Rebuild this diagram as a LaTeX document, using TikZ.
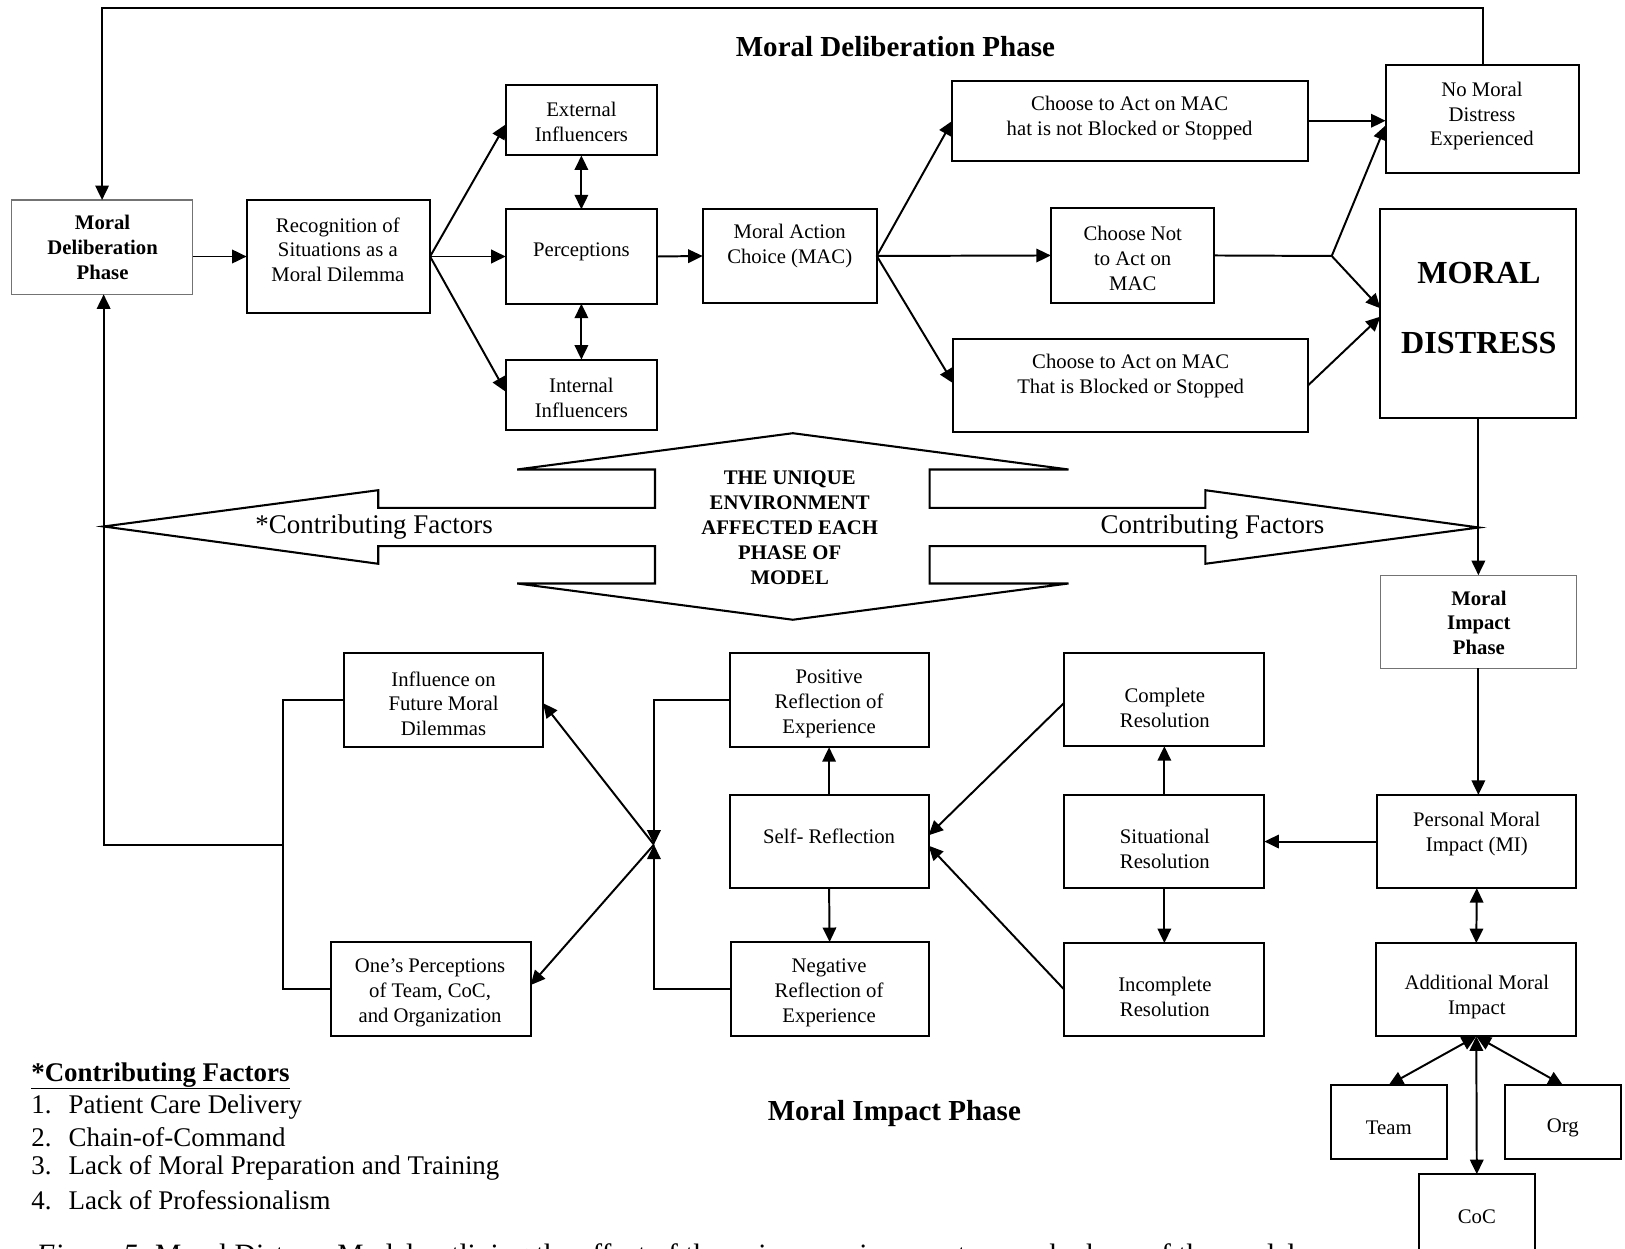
\documentclass[tikz,border=0pt]{standalone}
\usepackage{fontspec}
\setmainfont{Liberation Serif}
\usetikzlibrary{arrows.meta}

% \pbox[style]{name}{x1}{y1}{x2}{y2}: empty framed box spanning two corners
\newcommand{\pbox}[6][box]{%
  \node[#1, minimum width={(#5-#3)*1pt}, minimum height={(#6-#4)*1pt}] (#2) at ({(#3+#5)/2},{(#4+#6)/2}) {};}

\tikzset{
  box/.style={draw, line width=2pt, inner sep=0pt, outer sep=0pt},
  gbox/.style={draw=black!55, line width=1.2pt, inner sep=0pt, outer sep=0pt},
  lbl/.style={align=center, inner sep=0pt, yshift=-2pt, font=\fontsize{20}{24}\selectfont},
  blbl/.style={align=center, inner sep=0pt, yshift=-1pt, font=\fontsize{20}{24}\selectfont\bfseries},
  conn/.style={line width=1.9pt},
  tip/.tip={Triangle[length=14pt,width=13pt]},
  arr/.style={conn, -tip},
  darr/.style={conn, tip-tip},
  bigtxt/.style={inner sep=0pt, font=\fontsize{26}{30}\selectfont},
  phasetitle/.style={inner sep=0pt, font=\fontsize{28}{32}\selectfont\bfseries},
}

\begin{document}
\begin{tikzpicture}[x=1pt,y=-1pt]
\useasboundingbox (0,0) rectangle (1568,1205);
\fill[white] (0,0) rectangle (1568,1205);

% ---------- environment arrows (four-way shape) ----------
\draw[line width=2pt, line join=miter]
  (765,418) -- (1031,453) -- (897,453) -- (897,490) -- (1163,490) -- (1163,473)
  -- (1427,509) -- (1163,544) -- (1163,527) -- (897,527) -- (897,563) -- (1031,563)
  -- (765,598) -- (499,563) -- (632,563) -- (632,527) -- (365,527) -- (365,544)
  -- (100,508) -- (365,473) -- (365,490) -- (632,490) -- (632,453) -- (499,453) -- cycle;
\node[align=center, inner sep=0pt, font=\fontsize{20}{24}\selectfont\bfseries] (envtxt) at (762,509)
  {THE UNIQUE\\ENVIRONMENT\\AFFECTED EACH\\PHASE OF\\MODEL};
\node[bigtxt] (cfleft) at (361,509) {*Contributing Factors};
\node[bigtxt] (cfright) at (1170,509) {Contributing Factors};

% ---------- phase titles ----------
\node[phasetitle] (deltitle) at (864,45) {Moral Deliberation Phase};
\node[phasetitle] (imptitle) at (863,1074) {Moral Impact Phase};

% ---------- deliberation boxes ----------
\pbox[gbox]{mdp}{11}{193}{186}{284}
\node[blbl] (mdp-t) at (99,238) {Moral\\Deliberation\\Phase};
\pbox{recog}{238}{193}{415}{302}
\node[lbl] (recog-t) at (326,239) {Recognition of\\Situations as a\\Moral Dilemma};
\pbox{ext}{488}{82}{634}{150}
\node[lbl] (ext-t) at (561,116) {External\\Influencers};
\pbox{perc}{488}{202}{634}{293}
\node[lbl] (perc-t) at (561,241) {Perceptions};
\pbox{int}{488}{347}{634}{415}
\node[lbl] (int-t) at (561,382) {Internal\\Influencers};
\pbox{mac}{678}{202}{846}{292}
\node[lbl] (mac-t) at (762,235) {Moral Action\\Choice (MAC)};
\pbox{act1}{919}{78}{1262}{155}
\node[lbl] (act1-t) at (1090,112) {Choose to Act on MAC\\hat is not Blocked or Stopped};
\pbox{notact}{1014}{201}{1171}{292}
\node[lbl] (notact-t) at (1093,247) {Choose Not\\to Act on\\MAC};
\pbox{act2}{920}{327}{1262}{417}
\node[lbl] (act2-t) at (1091,361) {Choose to Act on MAC\\That is Blocked or Stopped};
\pbox{nomd}{1337}{63}{1524}{167}
\node[lbl] (nomd-t) at (1430,110) {No Moral\\Distress\\Experienced};
\pbox{md}{1332}{202}{1521}{403}
\node[align=center, inner sep=0pt, font=\fontsize{31}{68}\selectfont\bfseries] (md-t) at (1427,297) {MORAL\\DISTRESS};

% ---------- impact boxes ----------
\pbox[gbox]{mip}{1332}{555}{1521}{645}
\node[blbl] (mip-t) at (1427,600) {Moral\\Impact\\Phase};
\pbox{pmi}{1329}{767}{1521}{857}
\node[lbl] (pmi-t) at (1425,803) {Personal Moral\\Impact (MI)};
\pbox{ami}{1328}{910}{1521}{1000}
\node[lbl] (ami-t) at (1425,960) {Additional Moral\\Impact};
\pbox{team}{1284}{1047}{1396}{1118}
\node[lbl] (team-t) at (1340,1086) {Team};
\pbox{org}{1452}{1047}{1564}{1118}
\node[lbl] (org-t) at (1508,1086) {Org};
\pbox{coc}{1369}{1133}{1481}{1215}
\node[lbl] (coc-t) at (1425,1172) {CoC};
\pbox{sitres}{1027}{767}{1220}{857}
\node[lbl] (sitres-t) at (1124,817) {Situational\\Resolution};
\pbox{compres}{1027}{630}{1220}{720}
\node[lbl] (compres-t) at (1124,681) {Complete\\Resolution};
\pbox{incres}{1027}{910}{1220}{1000}
\node[lbl] (incres-t) at (1124,960) {Incomplete\\Resolution};
\pbox{selfref}{704}{767}{896}{857}
\node[lbl] (selfref-t) at (800,805) {Self- Reflection};
\pbox{posref}{704}{630}{896}{721}
\node[lbl] (posref-t) at (800,677) {Positive\\Reflection of\\Experience};
\pbox{negref}{705}{909}{896}{1000}
\node[lbl] (negref-t) at (800,956) {Negative\\Reflection of\\Experience};
\pbox{infl}{332}{630}{524}{721}
\node[lbl] (infl-t) at (428,677) {Influence on\\Future Moral\\Dilemmas};
\pbox{ones}{319}{909}{512}{1000}
\node[lbl] (ones-t) at (415,956) {One’s Perceptions\\of Team, CoC,\\and Organization};

% ---------- junction points ----------
\coordinate (looptop) at (1430,8);
\coordinate (jd) at (1285,247);
\coordinate (jr) at (631,815);
\coordinate (jl) at (273,815);
\coordinate (jfeed) at (100,815);

% ---------- deliberation connectors ----------
\draw[arr] (nomd.north) -- (nomd.north |- looptop) -| (mdp.north);
\draw[arr] (mdp.east |- recog.west) -- (recog.west);
\draw[arr] (recog.east) -- ([yshift=-4pt]ext.west);
\draw[arr] (recog.east) -- (perc.west);
\draw[arr] (recog.east) -- ([yshift=3pt]int.west);
\draw[darr] (ext.south) -- (perc.north);
\draw[darr] (perc.south) -- (int.north);
\draw[arr] (perc.east) -- (mac.west);
\draw[arr] (mac.east) -- (act1.west);
\draw[arr] (mac.east) -- (notact.west);
\draw[arr] (mac.east) -- ([yshift=2pt]act2.west);
\draw[arr] (act1.east) -- (act1.east -| nomd.west);
\draw[conn] (notact.east) -- (jd);
\draw[arr] (jd) -- ([yshift=-6pt]nomd.west);
\draw[arr] (jd) -- ([yshift=5pt]md.west);
\draw[arr] (act2.east) -- ([yshift=-3pt]md.west);

% ---------- impact connectors ----------
\draw[arr] (md.south) -- (mip.north);
\draw[arr] (mip.south) -- (mip.south |- pmi.north);
\draw[darr] (pmi.south) -- (ami.north);
\draw[darr] (ami.south) -- (team.north);
\draw[darr] (ami.south) -- (org.north);
\draw[darr] (ami.south) -- (coc.north);
\draw[arr] (pmi.west) -- (sitres.east);
\draw[arr] (sitres.north) -- (compres.south);
\draw[arr] (sitres.south) -- (incres.north);
\draw[arr] ([yshift=-3pt]compres.west) -- ([yshift=6pt]selfref.east);
\draw[arr] (incres.west) -- ([yshift=-4pt]selfref.east);
\draw[arr] (selfref.north) -- (posref.south);
\draw[arr] (selfref.south) -- (negref.north);
\draw[arr] (posref.west) -| (jr);
\draw[arr] (negref.west) -| (jr);
\draw[arr] (jr) -- ([yshift=-3pt]infl.east);
\draw[arr] (jr) -- ([yshift=4pt]ones.east);
\draw[conn] (infl.west) -| (jl) |- (ones.west);
\draw[arr] (jl) -- (jfeed) -- (jfeed |- mdp.south);

% ---------- contributing factors list ----------
\node[anchor=west, inner sep=0pt, font=\fontsize{26}{30}\selectfont\bfseries] (cfhead) at (30,1038) {\underline{*Contributing Factors}};
\node[anchor=west, bigtxt] (cf1) at (30,1068) {\makebox[36pt][l]{1.}Patient Care Delivery};
\node[anchor=west, bigtxt] (cf2) at (30,1097) {\makebox[36pt][l]{2.}Chain-of-Command};
\node[anchor=west, bigtxt] (cf3) at (30,1127) {\makebox[36pt][l]{3.}Lack of Moral Preparation and Training};
\node[anchor=west, bigtxt] (cf4) at (30,1158) {\makebox[36pt][l]{4.}Lack of Professionalism};

% ---------- figure caption, running off the lower edge ----------
\begin{scope}
\clip (0,0) rectangle (1568,1205);
\node[anchor=base west, inner sep=0pt, font=\fontsize{28.5}{32}\selectfont] (caption) at (35,1220)
  {\textit{Figure 5.} Moral Distress Model outlining the effect of the unique environment on each phase of the model.};
\end{scope}
\end{tikzpicture}
\end{document}
